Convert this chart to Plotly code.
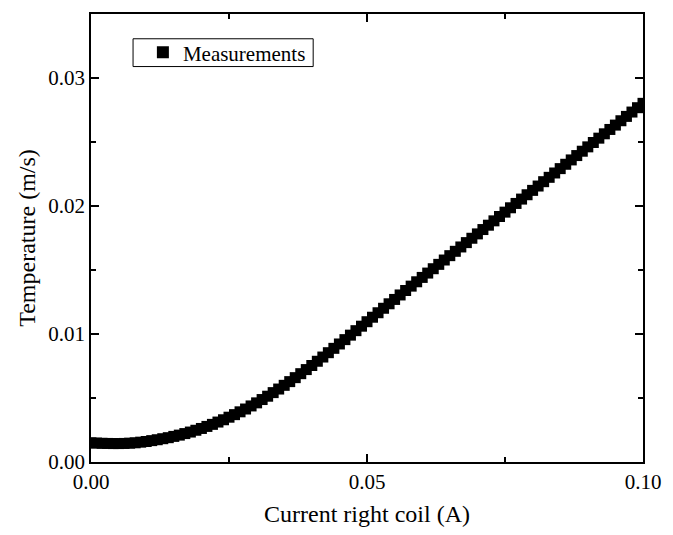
import plotly.graph_objects as go

current_a = [round(i * 0.001, 3) for i in range(101)]
measurements = [
    0.00150, 0.00148, 0.00146, 0.00145, 0.00144, 0.00144, 0.00145, 0.00147, 0.00150, 0.00155,
    0.00160, 0.00167, 0.00174, 0.00182, 0.00190, 0.00200, 0.00210, 0.00222, 0.00234, 0.00248,
    0.00262, 0.00278, 0.00294, 0.00312, 0.00330, 0.00350, 0.00370, 0.00392, 0.00414, 0.00438,
    0.00462, 0.00488, 0.00514, 0.00542, 0.00570, 0.00599, 0.00628, 0.00659, 0.00690, 0.00722,
    0.00754, 0.00787, 0.00820, 0.00854, 0.00888, 0.00922, 0.00956, 0.00991, 0.01026, 0.01061,
    0.01096, 0.01131, 0.01166, 0.01201, 0.01236, 0.01270, 0.01305, 0.01340, 0.01374, 0.01408,
    0.01442, 0.01476, 0.01510, 0.01544, 0.01578, 0.01612, 0.01646, 0.01680, 0.01714, 0.01748,
    0.01782, 0.01816, 0.01850, 0.01884, 0.01918, 0.01952, 0.01986, 0.02020, 0.02054, 0.02088,
    0.02122, 0.02156, 0.02190, 0.02224, 0.02258, 0.02292, 0.02326, 0.02360, 0.02394, 0.02428,
    0.02462, 0.02496, 0.02530, 0.02564, 0.02598, 0.02632, 0.02666, 0.02700, 0.02734, 0.02768,
    0.02802,
]

x_ticks = [0.00, 0.05, 0.10]
y_ticks = [0.00, 0.01, 0.02, 0.03]

font_family = "Liberation Serif, Times New Roman, serif"

fig = go.Figure()
fig.add_trace(go.Scatter(
    x=current_a, y=measurements, mode="markers", name="Measurements",
    marker=dict(symbol="square", size=11, color="black", line=dict(width=0)),
))

axis_common = dict(
    showline=True, linecolor="black", linewidth=1.5, mirror="ticks",
    ticks="inside", ticklen=8, tickwidth=1.5, tickcolor="black",
    showgrid=False, zeroline=False, tickformat=".2f",
    tickfont=dict(family=font_family, size=21, color="black"),
    ticklabeloverflow="allow",
)

fig.update_xaxes(
    range=[0, 0.10], tickvals=x_ticks,
    minor=dict(dtick=0.025, ticks="inside", ticklen=5, tickwidth=1.5, tickcolor="black", showgrid=False),
    title=dict(text="Current right coil (A)", font=dict(family=font_family, size=24, color="black"), standoff=12),
    **axis_common,
)
fig.update_yaxes(
    range=[0, 0.035], tickvals=y_ticks,
    minor=dict(dtick=0.005, ticks="inside", ticklen=5, tickwidth=1.5, tickcolor="black", showgrid=False),
    title=dict(text="Temperature (m/s)", font=dict(family=font_family, size=24, color="black"), standoff=6),
    **axis_common,
)

# legend frame (Origin-style box)
fig.add_shape(
    type="rect", xref="paper", yref="paper",
    x0=0.0762, x1=0.4025, y0=0.8827, y1=0.9447,
    line=dict(color="black", width=1), fillcolor="rgba(0,0,0,0)",
)

fig.update_layout(
    width=673, height=535,
    margin=dict(l=91, r=20, t=13, b=70),
    paper_bgcolor="white", plot_bgcolor="white",
    showlegend=True,
    legend=dict(
        x=0.094, y=0.9137, xanchor="left", yanchor="middle",
        borderwidth=0, bgcolor="rgba(0,0,0,0)",
        font=dict(family=font_family, size=21, color="black"),
        itemsizing="constant", tracegroupgap=0,
    ),
)

fig.write_html("out.html")
